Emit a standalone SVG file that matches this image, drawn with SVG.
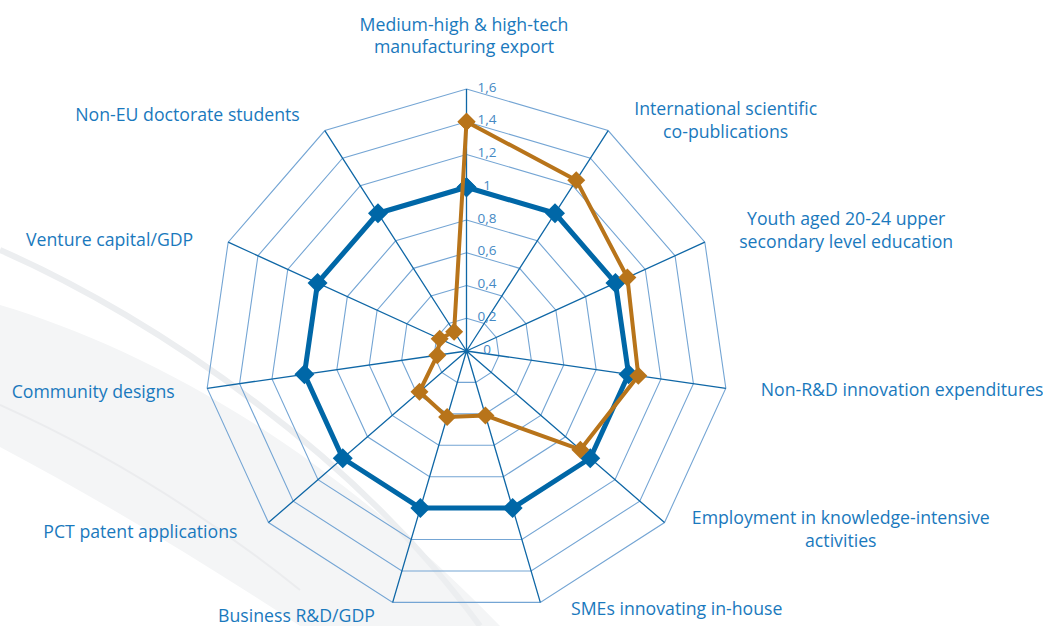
<svg xmlns="http://www.w3.org/2000/svg" width="1043" height="626" viewBox="0 0 1043 626">
<style>
.ring{fill:none;stroke:#74a5d4;stroke-width:1.1}
.axis{fill:none;stroke:#0f67a6;stroke-width:1.3}
.lbl{font-family:"Open Sans","Liberation Sans",sans-serif;font-size:17.7px;fill:#1a79bd}
.tick{font-family:"Open Sans","Liberation Sans",sans-serif;font-size:13.5px;fill:#4589c4;text-anchor:middle}
.mid{text-anchor:middle}
.sBlue{fill:none;stroke:#0067a7;stroke-width:5;stroke-linejoin:round;marker-start:url(#mBlue);marker-mid:url(#mBlue);marker-end:url(#mBlue)}
.sOrange{fill:none;stroke:#b8741a;stroke-width:4;stroke-linejoin:round;marker-start:url(#mOrange);marker-mid:url(#mOrange);marker-end:url(#mOrange)}
</style>
<defs>
<marker id="mBlue" markerUnits="userSpaceOnUse" markerWidth="22" markerHeight="22" refX="11" refY="11" orient="0" overflow="visible">
<path d="M11,1 L21,11 L11,21 L1,11 Z" fill="#0067a7"/>
</marker>
<marker id="mOrange" markerUnits="userSpaceOnUse" markerWidth="20" markerHeight="20" refX="10" refY="10" orient="0" overflow="visible">
<path d="M10,1 L19,10 L10,19 L1,10 Z" fill="#b8741a"/>
</marker>
</defs>
<rect width="1043" height="626" fill="#ffffff"/>
<g id="background">
<path d="M0,305 C150,350 330,450 500,626 L300,626 C200,560 100,500 0,447 Z" fill="#f4f5f6"/>
<path d="M0,250 C160,320 360,460 480,626" fill="none" stroke="#eceef0" stroke-width="6"/>
<path d="M0,405 C100,450 200,510 300,590" fill="none" stroke="#ebecee" stroke-width="2"/>
</g>
<g id="grid">
<polygon class="ring" points="466.5,318.25 484.21,323.45 496.29,337.4 498.92,355.66 491.25,372.45 475.73,382.42 457.27,382.42 441.75,372.45 434.08,355.66 436.71,337.4 448.79,323.45"/>
<polygon class="ring" points="466.5,285.5 501.91,295.9 526.08,323.79 531.33,360.32 516,393.89 484.95,413.85 448.05,413.85 417,393.89 401.67,360.32 406.92,323.79 431.09,295.9"/>
<polygon class="ring" points="466.5,252.75 519.62,268.35 555.87,310.18 563.75,364.98 540.75,415.34 494.18,445.27 438.82,445.27 392.25,415.34 369.25,364.98 377.13,310.18 413.38,268.35"/>
<polygon class="ring" points="466.5,220 537.32,240.8 585.66,296.58 596.17,369.64 565.5,436.79 503.41,476.69 429.59,476.69 367.5,436.79 336.83,369.64 347.34,296.58 395.68,240.8"/>
<polygon class="ring" points="466.5,187.25 555.03,213.25 615.45,282.98 628.58,374.3 590.25,458.23 512.63,508.12 420.37,508.12 342.75,458.23 304.42,374.3 317.55,282.98 377.97,213.25"/>
<polygon class="ring" points="466.5,154.5 572.74,185.69 645.24,269.37 661,378.96 615,479.68 521.86,539.54 411.14,539.54 318,479.68 272,378.96 287.76,269.37 360.26,185.69"/>
<polygon class="ring" points="466.5,121.75 590.44,158.14 675.03,255.76 693.42,383.62 639.76,501.13 531.09,570.96 401.91,570.96 293.24,501.13 239.58,383.62 257.97,255.76 342.56,158.14"/>
<polygon class="ring" points="466.5,89 608.15,130.59 704.82,242.16 725.83,388.29 664.51,522.57 540.31,602.39 392.69,602.39 268.49,522.57 207.17,388.29 228.18,242.16 324.85,130.59"/>
<path class="axis" d="M466.5,351 L466.5,89 M466.5,351 L608.15,130.59 M466.5,351 L704.82,242.16 M466.5,351 L725.83,388.29 M466.5,351 L664.51,522.57 M466.5,351 L540.31,602.39 M466.5,351 L392.69,602.39 M466.5,351 L268.49,522.57 M466.5,351 L207.17,388.29 M466.5,351 L228.18,242.16 M466.5,351 L324.85,130.59"/>
</g>
<g id="series-eu">
<polygon class="sBlue" points="466.5,187.25 555.03,213.25 615.45,282.98 628.58,374.3 590.25,458.23 512.63,508.12 420.37,508.12 342.75,458.23 304.42,374.3 317.55,282.98 377.97,213.25"/>
</g>
<g id="series-country">
<polygon class="sOrange" points="466.5,121.75 576.28,180.18 627.37,277.53 638.31,375.7 580.35,449.66 485.42,415.42 447.12,416.99 419.47,391.75 437.32,355.2 439.69,338.75 454.1,331.71"/>
</g>
<g id="ticks">
<text class="tick" x="487" y="91.5">1,6</text>
<text class="tick" x="487" y="124.25">1,4</text>
<text class="tick" x="487" y="157">1,2</text>
<text class="tick" x="487" y="189.75">1</text>
<text class="tick" x="487" y="222.5">0,8</text>
<text class="tick" x="487" y="255.25">0,6</text>
<text class="tick" x="487" y="288">0,4</text>
<text class="tick" x="487" y="320.75">0,2</text>
<text class="tick" x="487" y="353.5">0</text>
</g>
<g id="label-medium-high">
<text class="lbl mid" x="464" y="31">Medium-high &amp; high-tech</text>
<text class="lbl mid" x="464" y="53">manufacturing export</text>
</g>
<g id="label-copublications">
<text class="lbl mid" x="725.7" y="115">International scientific</text>
<text class="lbl mid" x="725.7" y="138">co-publications</text>
</g>
<g id="label-youth">
<text class="lbl mid" x="846.2" y="225">Youth aged 20-24 upper</text>
<text class="lbl mid" x="846.2" y="248">secondary level education</text>
</g>
<g id="label-non-rd">
<text class="lbl" x="760.7" y="396">Non-R&amp;D innovation expenditures</text>
</g>
<g id="label-employment">
<text class="lbl mid" x="840.8" y="524">Employment in knowledge-intensive</text>
<text class="lbl mid" x="840.8" y="547">activities</text>
</g>
<g id="label-smes">
<text class="lbl" x="571" y="615">SMEs innovating in-house</text>
</g>
<g id="label-business-rd">
<text class="lbl" x="218" y="621.5">Business R&amp;D/GDP</text>
</g>
<g id="label-pct">
<text class="lbl" x="43.3" y="538.3">PCT patent applications</text>
</g>
<g id="label-community">
<text class="lbl" x="11.7" y="398.3">Community designs</text>
</g>
<g id="label-venture">
<text class="lbl" x="26" y="245.7">Venture capital/GDP</text>
</g>
<g id="label-non-eu">
<text class="lbl" x="75.3" y="120.5">Non-EU doctorate students</text>
</g>
</svg>
